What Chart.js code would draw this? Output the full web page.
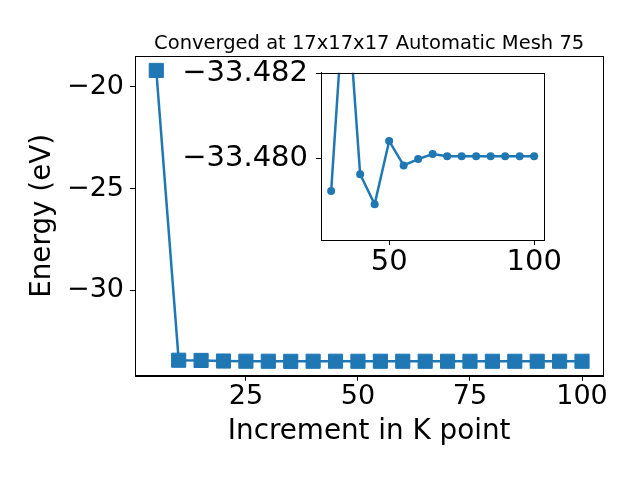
<!DOCTYPE html>
<html>
<head>
<meta charset="utf-8">
<script src="https://cdn.jsdelivr.net/npm/chart.js@4.4.0/dist/chart.umd.min.js"></script>
<style>
  html, body { margin: 0; padding: 0; background: #fff; }
  #wrap { position: relative; width: 640px; height: 480px; }
  #main { position: absolute; left: 0; top: 0; }
  #inset { position: absolute; left: 150px; top: 60px; }
</style>
</head>
<body>
<div id="wrap">
  <canvas id="main" width="640" height="480"></canvas>
  <canvas id="inset" width="420" height="230"></canvas>
</div>
<script>
// ---- data ----
const kPoints = [5, 10, 15, 20, 25, 30, 35, 40, 45, 50, 55, 60, 65, 70, 75, 80, 85, 90, 95, 100];
const energies = [-19.2, -33.43, -33.44, -33.47, -33.478, -33.47922, -33.48443, -33.47962, -33.47891, -33.48041,
                  -33.47983, -33.47998, -33.4801, -33.48005, -33.48005, -33.48005, -33.48005, -33.48005, -33.48005, -33.48005];
const insetKPoints = [30, 35, 40, 45, 50, 55, 60, 65, 70, 75, 80, 85, 90, 95, 100];
const insetEnergies = [-33.47922, -33.48443, -33.47962, -33.47891, -33.48041, -33.47983, -33.47998, -33.4801,
                       -33.48005, -33.48005, -33.48005, -33.48005, -33.48005, -33.48005, -33.48005];
const mainXTicks = [25, 50, 75, 100];
const mainYTicks = [-30, -25, -20];
const insetXTicks = [50, 100];
const insetYTicks = [-33.482, -33.480];
const titleText = 'Converged at 17x17x17 Automatic Mesh 75';
const xLabel = 'Increment in K point';
const yLabel = 'Energy (eV)';

const BLUE = '#1f77b4';
const FONT = 'DejaVu Sans';
const fmtMinus = (v, d) => (v < 0 ? '\u2212' : '') + Math.abs(v).toFixed(d);
const noEdgePad = s => { s.paddingTop = 0; s.paddingBottom = 0; s.paddingLeft = 0; s.paddingRight = 0; };

const boxPlugin = {
  id: 'box',
  afterDraw(chart) {
    const a = chart.chartArea, ctx = chart.ctx;
    ctx.save();
    ctx.strokeStyle = '#000';
    ctx.lineWidth = 1;
    ctx.strokeRect(Math.round(a.left) + 0.5, Math.round(a.top) + 0.5,
                   Math.round(a.right - a.left), Math.round(a.bottom - a.top));
    ctx.restore();
  }
};

const titlePlugin = {
  id: 'titleText',
  afterDraw(chart) {
    const a = chart.chartArea, ctx = chart.ctx;
    ctx.save();
    ctx.font = '19.5px "' + FONT + '"';
    ctx.fillStyle = '#000';
    ctx.textAlign = 'center';
    ctx.textBaseline = 'alphabetic';
    ctx.fillText(titleText, (a.left + a.right) / 2, 49);
    ctx.restore();
  }
};

// main chart
new Chart(document.getElementById('main'), {
  type: 'line',
  data: {
    datasets: [{
      data: kPoints.map((x, i) => ({ x: x, y: energies[i] })),
      borderColor: BLUE,
      backgroundColor: BLUE,
      borderWidth: 2.5,
      pointStyle: 'rect',
      pointRadius: 10,
      pointBorderWidth: 1,
      pointBorderColor: BLUE,
      pointBackgroundColor: BLUE,
      tension: 0
    }]
  },
  options: {
    responsive: false,
    animation: false,
    layout: { padding: { left: 0, right: 36.7, top: 56, bottom: 0 } },
    plugins: { legend: { display: false }, tooltip: { enabled: false } },
    scales: {
      x: {
        type: 'linear',
        min: 0.25, max: 104.75,
        afterBuildTicks: s => { s.ticks = mainXTicks.map(v => ({ value: v })); },
        afterFit: s => { s.height = 104.3; noEdgePad(s); },
        grid: { drawOnChartArea: false, drawTicks: true, tickLength: 5, color: '#000' },
        border: { display: true, color: '#000' },
        ticks: { color: '#000', font: { family: FONT, size: 27 }, padding: 0, maxRotation: 0,
                 callback: v => String(v) },
        title: { display: true, text: xLabel, color: '#000', font: { family: FONT, size: 27.8 },
                 padding: { top: 0, bottom: 32 } }
      },
      y: {
        type: 'linear',
        min: -34.19, max: -18.49,
        afterBuildTicks: s => { s.ticks = mainYTicks.map(v => ({ value: v })); },
        afterFit: s => { s.width = 135; noEdgePad(s); },
        grid: { drawOnChartArea: false, drawTicks: true, tickLength: 5, color: '#000' },
        border: { display: true, color: '#000' },
        ticks: { color: '#000', font: { family: FONT, size: 27 }, padding: 6,
                 callback: v => fmtMinus(v, 0) },
        title: { display: true, text: yLabel, color: '#000', font: { family: FONT, size: 27.8 },
                 padding: { top: 26, bottom: 0 } }
      }
    }
  },
  plugins: [boxPlugin, titlePlugin]
});

// inset chart
new Chart(document.getElementById('inset'), {
  type: 'line',
  data: {
    datasets: [{
      data: insetKPoints.map((x, i) => ({ x: x, y: insetEnergies[i] })),
      borderColor: BLUE,
      backgroundColor: BLUE,
      borderWidth: 2.5,
      pointStyle: 'circle',
      pointRadius: 4,
      pointBorderWidth: 0,
      pointBackgroundColor: BLUE,
      tension: 0
    }]
  },
  options: {
    responsive: false,
    animation: false,
    layout: { padding: { left: 0, right: 25.7, top: 12.7, bottom: 0 } },
    plugins: { legend: { display: false }, tooltip: { enabled: false } },
    scales: {
      x: {
        type: 'linear',
        min: 26.5, max: 103.5,
        afterBuildTicks: s => { s.ticks = insetXTicks.map(v => ({ value: v })); },
        afterFit: s => { s.height = 50; noEdgePad(s); },
        grid: { drawOnChartArea: false, drawTicks: true, tickLength: 5, color: '#000' },
        border: { display: true, color: '#000' },
        ticks: { color: '#000', font: { family: FONT, size: 29 }, padding: 0, maxRotation: 0,
                 callback: v => String(v) }
      },
      y: {
        type: 'linear',
        reverse: true,
        min: -33.48203, max: -33.47806,
        afterBuildTicks: s => { s.ticks = insetYTicks.map(v => ({ value: v })); },
        afterFit: s => { s.width = 171; noEdgePad(s); },
        grid: { drawOnChartArea: false, drawTicks: true, tickLength: 5, color: '#000' },
        border: { display: true, color: '#000' },
        ticks: { color: '#000', font: { family: FONT, size: 29 }, padding: 8,
                 callback: v => fmtMinus(v, 3) }
      }
    }
  },
  plugins: [boxPlugin]
});
</script>
</body>
</html>
